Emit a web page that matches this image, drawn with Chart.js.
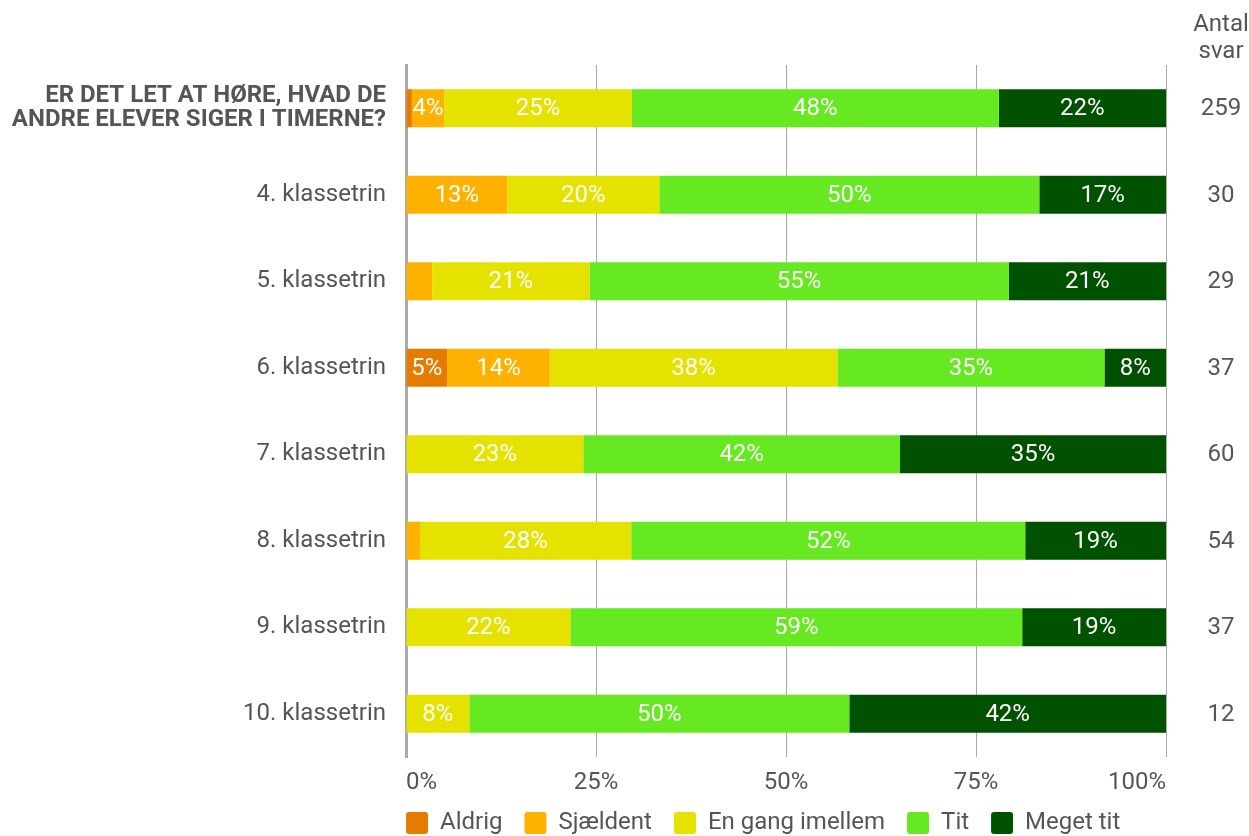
<!DOCTYPE html>
<html>
<head>
<meta charset="utf-8">
<script src="https://cdn.jsdelivr.net/npm/chart.js@4.4.1/dist/chart.umd.min.js"></script>
<style>
  body { margin: 0; background: #fff; }
  #wrap { width: 1249px; height: 836px; }
</style>
</head>
<body>
<div id="wrap"><canvas id="svarChart"></canvas></div>
<script>
// Rækker i diagrammet
const rows = [
    ['ER DET LET AT HØRE, HVAD DE', 'ANDRE ELEVER SIGER I TIMERNE?'],
    '4. klassetrin',
    '5. klassetrin',
    '6. klassetrin',
    '7. klassetrin',
    '8. klassetrin',
    '9. klassetrin',
    '10. klassetrin'
];

// Antal svar pr. række
const answers = [259, 30, 29, 37, 60, 54, 37, 12];

// Andel af svar i procent
const aldrig    = [0.77, 0, 0, 5.41, 0, 0, 0, 0];
const sjaeldent = [4.25, 13.33, 3.45, 13.51, 0, 1.85, 0, 0];
const enGang    = [24.71, 20.0, 20.69, 37.84, 23.33, 27.78, 21.62, 8.33];
const tit       = [48.26, 50.0, 55.17, 35.14, 41.67, 51.85, 59.46, 50.0];
const megetTit  = [22.01, 16.67, 20.69, 8.10, 35.0, 18.52, 18.92, 41.67];

const font = 'Roboto';

// Procenttal inde i søjlerne
const barLabels = {
    id: 'barLabels',
    afterDatasetsDraw(chart) {
        const ctx = chart.ctx;
        ctx.save();
        ctx.font = '24px ' + font;
        ctx.fillStyle = '#fff';
        ctx.textAlign = 'center';
        ctx.textBaseline = 'middle';
        chart.data.datasets.forEach((ds, di) => {
            chart.getDatasetMeta(di).data.forEach((bar, i) => {
                const v = ds.data[i];
                if (v < 4) return; // for smalle felter vises ikke
                const p = bar.getCenterPoint();
                ctx.fillText(Math.round(v) + '%', p.x, p.y + 1);
            });
        });
        ctx.restore();
    }
};

// Kolonnen "Antal svar" til højre
const answerColumn = {
    id: 'answerColumn',
    afterDraw(chart) {
        const { ctx, chartArea, scales: { y } } = chart;
        const x = chartArea.right + 55;
        ctx.save();
        ctx.font = '24px ' + font;
        ctx.fillStyle = '#555';
        ctx.textAlign = 'center';
        ctx.textBaseline = 'middle';
        ctx.fillText('Antal', x, 25);
        ctx.fillText('svar', x, 52);
        answers.forEach((n, i) => ctx.fillText(n, x, y.getPixelForValue(i) + 1));
        ctx.restore();
    }
};

// Legenden skal starte ud for plotområdet og ligge tæt under akserne
const legendShift = {
    id: 'legendShift',
    afterLayout(chart) {
        const lg = chart.legend;
        const pad = lg.options.labels.padding;
        lg.left = chart.chartArea.left - pad;
        lg.top = chart.chartArea.bottom + 54 - pad;
    }
};

const ctx = document.getElementById('svarChart').getContext('2d');

new Chart(ctx, {
    type: 'bar',
    data: {
        labels: rows,
        datasets: [
            { label: 'Aldrig', data: aldrig, backgroundColor: '#e47c00' },
            { label: 'Sjældent', data: sjaeldent, backgroundColor: '#ffb100' },
            { label: 'En gang imellem', data: enGang, backgroundColor: '#e6e200' },
            { label: 'Tit', data: tit, backgroundColor: '#66e920' },
            { label: 'Meget tit', data: megetTit, backgroundColor: '#005200' }
        ]
    },
    options: {
        indexAxis: 'y',
        responsive: true,
        maintainAspectRatio: false,
        animation: false,
        datasets: {
            bar: { barPercentage: 0.44, categoryPercentage: 1, borderWidth: 0 }
        },
        layout: { padding: { top: 65, right: 83, left: 0, bottom: -21 } },
        scales: {
            x: {
                stacked: true,
                min: 0,
                max: 100,
                border: { display: false },
                grid: { color: '#aaa', drawTicks: false },
                ticks: {
                    stepSize: 25,
                    align: 'inner',
                    padding: 12,
                    color: '#555',
                    font: { family: font, size: 24 },
                    callback: v => v + '%'
                },
                afterFit: s => { s.height = 44; }
            },
            y: {
                stacked: true,
                border: { color: '#aaa', width: 3 },
                grid: { display: false, drawTicks: false },
                ticks: {
                    padding: 20,
                    color: '#555',
                    font: c => ({
                        family: font,
                        size: 24,
                        lineHeight: 1.0,
                        weight: c.index === 0 ? 'bold' : 'normal'
                    })
                },
                afterFit: s => { s.width = 406; }
            }
        },
        plugins: {
            legend: {
                position: 'bottom',
                align: 'start',
                labels: {
                    boxWidth: 22,
                    boxHeight: 22,
                    padding: 22,
                    color: '#555',
                    useBorderRadius: true,
                    borderRadius: 3,
                    font: { family: font, size: 24 }
                }
            },
            tooltip: { enabled: false }
        }
    },
    plugins: [barLabels, answerColumn, legendShift]
});
</script>
</body>
</html>
